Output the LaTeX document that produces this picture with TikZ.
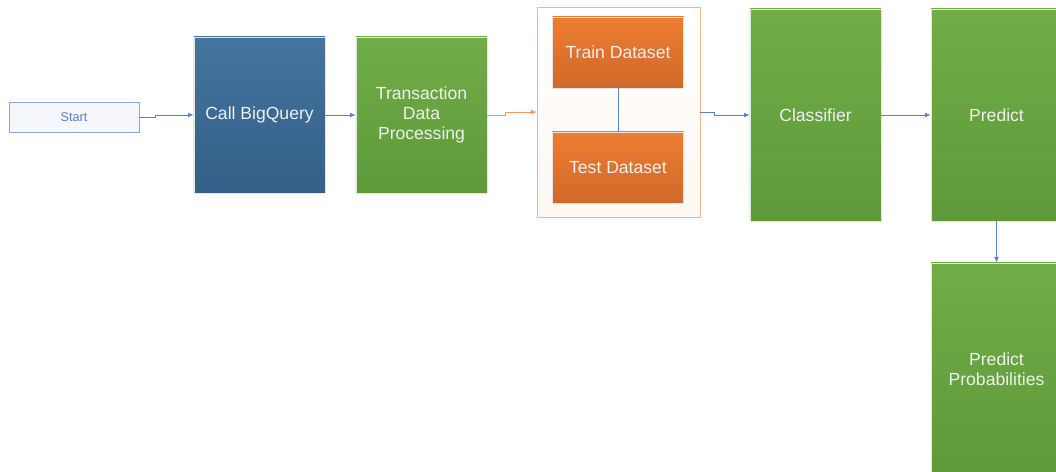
\documentclass[tikz,border=0pt]{standalone}
\usepackage{fontspec}
\setmainfont{Liberation Sans}
\usepackage{tikz}
\usetikzlibrary{arrows.meta}
\definecolor{plavaG}{HTML}{44759F}
\definecolor{plavaD}{HTML}{335F88}
\definecolor{zelenaG}{HTML}{70AD47}
\definecolor{zelenaD}{HTML}{5E9A39}
\definecolor{narG}{HTML}{EE7D31}
\definecolor{narD}{HTML}{CF692B}
\definecolor{linija}{HTML}{5B7FD3}
\definecolor{narlinija}{HTML}{F29664}
\tikzset{kutija/.style={draw=white!90!black, line width=0.5pt, text=white!94!black,
    font=\fontsize{12.5}{14.3}\selectfont, align=center, inner sep=0pt,
    minimum width=3.275cm}}
\tikzset{zelena/.style={kutija, top color=zelenaG, bottom color=zelenaD}}
\tikzset{narancasta/.style={kutija, top color=narG, bottom color=narD,
    minimum height=1.775cm}}
\tikzset{strelica/.style={draw=linija, line width=0.6pt,
    -{Latex[length=4pt,width=3.5pt]}}}

\begin{document}
\begin{tikzpicture}[x=0.025cm, y=-0.025cm]
    \useasboundingbox (0, 0) rectangle (1056, 472);

    %start
    \node[draw=linija!70, fill=linija!6, line width=0.6pt, minimum width=3.25cm,
        minimum height=0.75cm, text=linija, font=\fontsize{9}{11}\selectfont]
        (start) at (74, 117) {Start};

    %bigquery i obrada
    \node[kutija, top color=plavaG, bottom color=plavaD, minimum height=3.9cm]
        (poziv) at (259.5, 115) {Call BigQuery};
    \node[zelena, minimum height=3.9cm] (obrada) at (421.5, 115)
        {Transaction\\Data\\Processing};

    %skupovi podataka
    \node[draw=narlinija!70, line width=0.6pt, top color=white, bottom color=narG!6,
        minimum width=4.075cm, minimum height=5.25cm] (okvir) at (618.5, 112) {};
    \node[narancasta] (trening) at (618, 52.5) {Train Dataset};
    \node[narancasta] (test) at (618, 167.5) {Test Dataset};
    \draw[linija, line width=0.6pt] (trening.south) -- (test.north);

    %model
    \node[zelena, minimum height=5.3cm] (klasif) at (815.5, 115) {Classifier};
    \node[zelena, minimum height=5.3cm] (pred) at (996.5, 115) {Predict};
    \node[zelena, minimum height=5.3cm] (vjer) at (996.5, 369)
        {Predict\\Probabilities};

    %strelice
    \draw[strelica] (start.east) -- ++(16, 0) |- (poziv.west);
    \draw[strelica] (poziv.east) -- (obrada.west);
    \draw[strelica, draw=narlinija] (obrada.east) -- ++(18, 0) |- (okvir.west);
    \draw[strelica] (okvir.east) -- ++(14, 0) |- (klasif.west);
    \draw[strelica] (klasif.east) -- (pred.west);
    \draw[strelica] (pred.south) -- (vjer.north);
\end{tikzpicture}
\end{document}
